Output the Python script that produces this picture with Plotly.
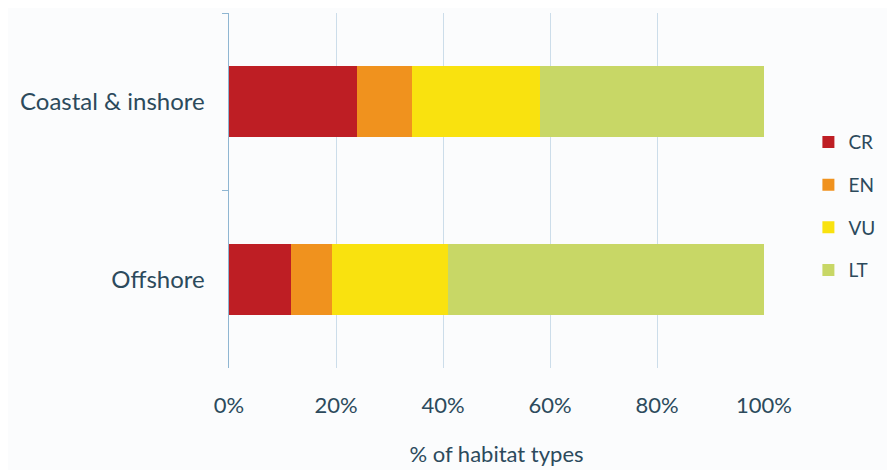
import plotly.graph_objects as go

categories = ["Coastal & inshore", "Offshore"]
series_names = ["CR", "EN", "VU", "LT"]
cr = [24.0, 11.5]
en = [10.2, 7.7]
vu = [24.0, 21.8]
lt = [41.8, 59.0]
colors = ["#BE1E24", "#F0921E", "#F9E20F", "#C8D766"]
tick_vals = [0, 20, 40, 60, 80, 100]
tick_text = ["0%", "20%", "40%", "60%", "80%", "100%"]

text_color = "#2C4A5C"
font_family = "Lato, 'Open Sans', sans-serif"

fig = go.Figure()
for name, vals, col in zip(series_names, [cr, en, vu, lt], colors):
    fig.add_trace(go.Bar(
        y=categories, x=vals, name=name, orientation="h",
        marker=dict(color=col, line=dict(width=0)),
        legendgroup=name,
    ))

fig.update_layout(
    barmode="stack",
    bargap=0.6,
    width=895, height=470,
    margin=dict(l=221, r=139, t=5, b=110, autoexpand=False),
    paper_bgcolor="#FBFCFD",
    plot_bgcolor="#FBFCFD",
    font=dict(family=font_family, size=22, color=text_color),
    legend=dict(
        x=1.083, y=0.456, xanchor="left", yanchor="middle",
        traceorder="grouped", tracegroupgap=15,
        font=dict(size=19, color=text_color),
        itemwidth=30, bgcolor="rgba(0,0,0,0)",
    ),
    showlegend=True,
)
fig.update_xaxes(
    range=[0, 100], tickvals=tick_vals, ticktext=tick_text,
    showgrid=True, gridcolor="#CCDDEA", gridwidth=1,
    zeroline=False, showline=False,
    ticks="outside", ticklen=18, tickcolor="rgba(0,0,0,0)",
    tickfont=dict(size=22, color=text_color),
    title=dict(text="% of habitat types", font=dict(size=22, color=text_color), standoff=29),
    fixedrange=True,
)
fig.update_yaxes(
    categoryorder="array", categoryarray=categories, autorange="reversed",
    showline=True, linecolor="#8FB6D2", linewidth=1,
    ticks="outside", tickson="boundaries", ticklen=6, tickcolor="#8FB6D2",
    showgrid=False, ticksuffix="   ",
    tickfont=dict(size=24, color=text_color),
)

fig.write_html("out.html")
